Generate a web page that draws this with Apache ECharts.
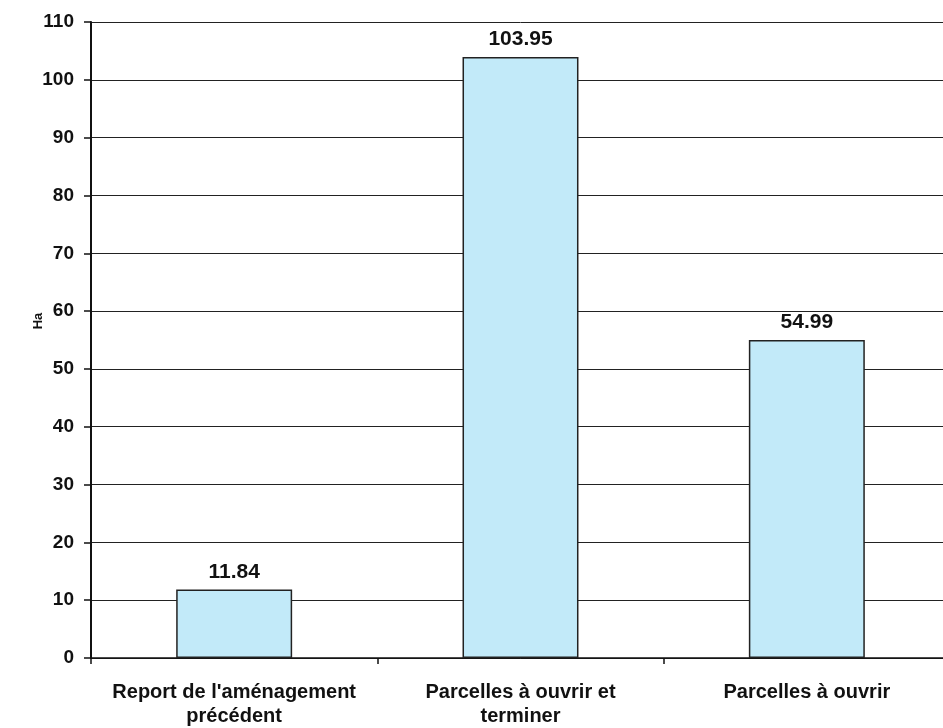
<!DOCTYPE html>
<html>
<head>
<meta charset="utf-8">
<script src="https://cdn.jsdelivr.net/npm/echarts@6/dist/echarts.min.js"></script>
<style>html,body{margin:0;padding:0;background:#fff;overflow:hidden;width:943px;height:728px;}#c{width:950px;height:728px;}</style>
</head>
<body>
<div id="c"></div>
<script>
var categories = ["Report de l'aménagement\nprécédent", "Parcelles à ouvrir et\nterminer", "Parcelles à ouvrir"];
var values = [11.84, 103.95, 54.99];
var valueLabels = ["11.84", "103.95", "54.99"];

var FONT = 'Liberation Sans, Arial, sans-serif';
var chart = echarts.init(document.getElementById('c'));
chart.setOption({
  animation: false,
  backgroundColor: '#fff',
  grid: { left: 91, top: 22, right: 0, bottom: 70, containLabel: false },
  xAxis: {
    type: 'category',
    data: categories,
    axisLine: { lineStyle: { color: '#111', width: 1.5 } },
    axisTick: { show: true, length: 6, lineStyle: { color: '#111', width: 1.5 } },
    axisLabel: {
      color: '#111', fontFamily: FONT, fontWeight: 'bold',
      fontSize: 20, lineHeight: 24, margin: 22, interval: 0
    }
  },
  yAxis: {
    type: 'value',
    min: 0, max: 110, interval: 10,
    name: 'Ha',
    nameLocation: 'middle',
    nameGap: 46,
    nameMoveOverlap: false,
    nameTextStyle: { color: '#111', fontFamily: FONT, fontWeight: 'bold', fontSize: 13, padding: [0, 0, 0, 38] },
    axisLine: { show: true, lineStyle: { color: '#111', width: 2 } },
    axisTick: { show: true, length: 7, lineStyle: { color: '#111', width: 1.5 } },
    axisLabel: { color: '#111', fontFamily: FONT, fontWeight: 'bold', fontSize: 19, margin: 17 },
    splitLine: { show: true, lineStyle: { color: '#222', width: 1 } }
  },
  series: [{
    type: 'bar',
    data: values,
    barWidth: '40.5%',
    itemStyle: { color: '#C2EAF9', borderColor: '#222', borderWidth: 1.5 },
    label: {
      show: true, position: 'top', distance: 7,
      color: '#111', fontFamily: FONT, fontWeight: 'bold', fontSize: 21,
      formatter: function (p) { return valueLabels[p.dataIndex]; }
    }
  }]
});
</script>
</body>
</html>
